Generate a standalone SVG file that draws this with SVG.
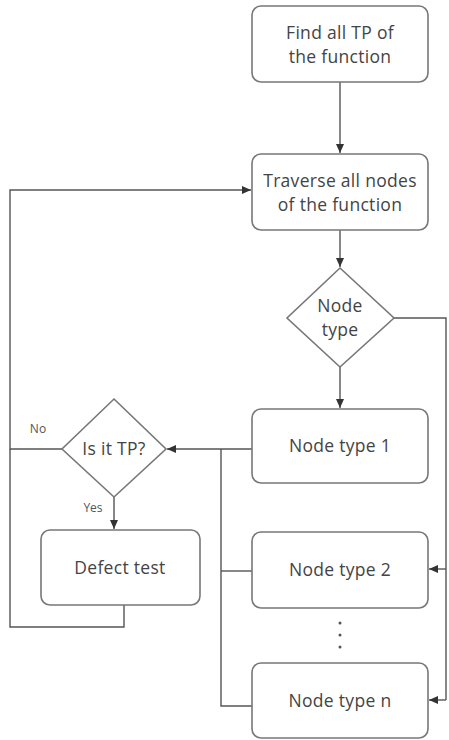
<svg xmlns="http://www.w3.org/2000/svg" width="449" height="740" viewBox="0 0 449 740">
<defs>
<marker id="ah" markerWidth="10" markerHeight="8" refX="9" refY="4" orient="auto" markerUnits="userSpaceOnUse">
<path d="M0,0 L9,4 L0,8 Z" fill="#333"/>
</marker>
<style>
.box{fill:#fff;stroke:#777;stroke-width:1.6}
.t{font-family:"Open Sans","Liberation Sans",sans-serif;font-size:17.5px;letter-spacing:0.3px;fill:#444;text-anchor:middle}
.s{font-family:"Open Sans","Liberation Sans",sans-serif;font-size:12px;fill:#555;text-anchor:middle}
.ln{fill:none;stroke:#555;stroke-width:1.4}
</style>
</defs>
<rect width="449" height="740" fill="#fff"/>
<g id="connectors">
<line class="ln" x1="340" y1="82" x2="340" y2="153" marker-end="url(#ah)"/>
<line class="ln" x1="340" y1="230" x2="340" y2="267" marker-end="url(#ah)"/>
<line class="ln" x1="340" y1="367" x2="340" y2="408" marker-end="url(#ah)"/>
<polyline class="ln" points="394,318 446,318 446,700"/>
<line class="ln" x1="446" y1="569" x2="429" y2="569" marker-end="url(#ah)"/>
<line class="ln" x1="446" y1="700" x2="429" y2="700" marker-end="url(#ah)"/>
<line class="ln" x1="252" y1="449" x2="167" y2="449" marker-end="url(#ah)"/>
<polyline class="ln" points="252,571 221,571"/>
<polyline class="ln" points="221,449 221,706 252,706"/>
<line class="ln" x1="114" y1="497" x2="114" y2="529" marker-end="url(#ah)"/>
<polyline class="ln" points="62,449 10,449 10,190 251,190" marker-end="url(#ah)"/>
<polyline class="ln" points="124,605 124,627 10,627 10,449"/>
<text class="s" x="38" y="433">No</text>
<text class="s" x="93" y="512">Yes</text>
</g>
<g id="find">
<rect class="box" x="252" y="6" width="176" height="76" rx="9"/>
<text class="t" x="340" y="39">Find all TP of</text>
<text class="t" x="340" y="63">the function</text>
</g>
<g id="traverse">
<rect class="box" x="252" y="154" width="176" height="76" rx="9"/>
<text class="t" x="340" y="187">Traverse all nodes</text>
<text class="t" x="340" y="211">of the function</text>
</g>
<g id="nodetype">
<polygon class="box" points="340,268 394,318 340,367 287,318"/>
<text class="t" x="340" y="312">Node</text>
<text class="t" x="340" y="336">type</text>
</g>
<g id="nt1">
<rect class="box" x="252" y="409" width="176" height="74" rx="9"/>
<text class="t" x="340" y="452">Node type 1</text>
</g>
<g id="istp">
<polygon class="box" points="114,399 166,449 114,497 62,449"/>
<text class="t" x="114" y="455">Is it TP?</text>
</g>
<g id="defect">
<rect class="box" x="41" y="530" width="159" height="75" rx="9"/>
<text class="t" x="120" y="574">Defect test</text>
</g>
<g id="nt2">
<rect class="box" x="252" y="532" width="176" height="76" rx="9"/>
<text class="t" x="340" y="576">Node type 2</text>
</g>
<g id="dots" fill="#555">
<circle cx="340" cy="623" r="1.5"/>
<circle cx="340" cy="635" r="1.5"/>
<circle cx="340" cy="647" r="1.5"/>
</g>
<g id="ntn">
<rect class="box" x="252" y="663" width="176" height="75" rx="9"/>
<text class="t" x="340" y="707">Node type n</text>
</g>
</svg>
